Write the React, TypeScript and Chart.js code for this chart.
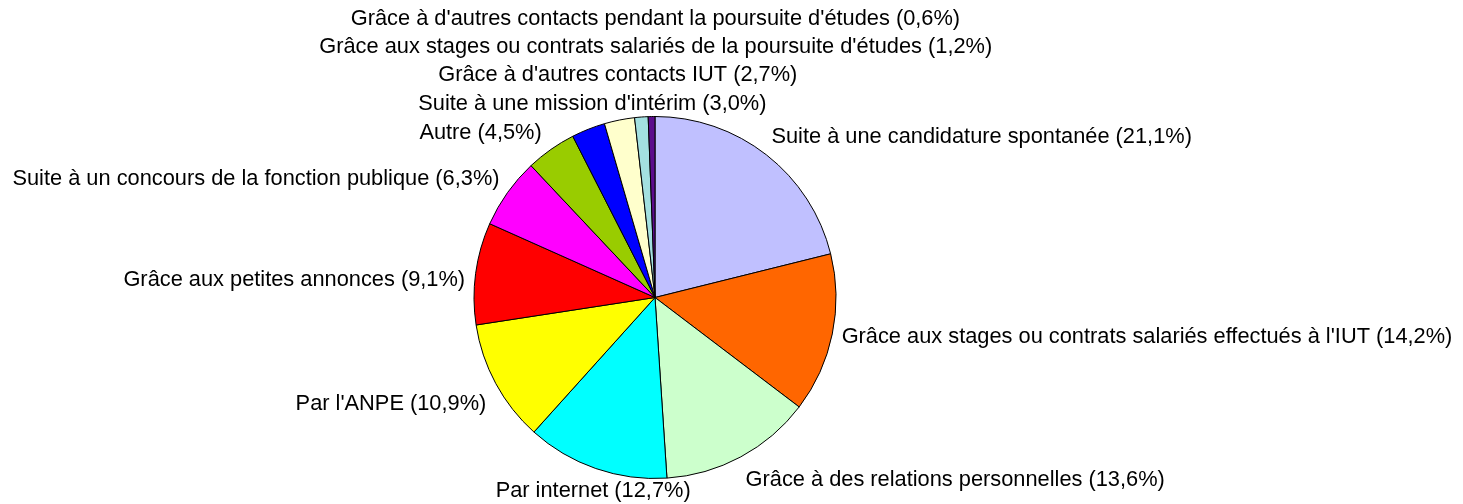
import React, { useEffect, useRef } from "react";
import { Chart, registerables } from "chart.js";

Chart.register(...registerables);

const categories: string[] = [
  "Suite à une candidature spontanée",
  "Grâce aux stages ou contrats salariés effectués à l'IUT",
  "Grâce à des relations personnelles",
  "Par internet",
  "Par l'ANPE",
  "Grâce aux petites annonces",
  "Suite à un concours de la fonction publique",
  "Autre",
  "Suite à une mission d'intérim",
  "Grâce à d'autres contacts IUT",
  "Grâce aux stages ou contrats salariés de la poursuite d'études",
  "Grâce à d'autres contacts pendant la poursuite d'études",
];

const values: number[] = [21.1, 14.2, 13.6, 12.7, 10.9, 9.1, 6.3, 4.5, 3.0, 2.7, 1.2, 0.6];

const colors: string[] = [
  "#C0C0FF",
  "#FF6600",
  "#CCFFCC",
  "#00FFFF",
  "#FFFF00",
  "#FF0000",
  "#FF00FF",
  "#99CC00",
  "#0000FF",
  "#FFFFCC",
  "#A3E0E0",
  "#5C0C8C",
];

const FONT = "21.8px 'Liberation Sans', Arial, sans-serif";

// per-label fine placement relative to the computed anchor (pixels)
const labelNudges: [number, number][] = [
  [0, -11.5],
  [1.5, 1.3],
  [1, 16],
  [0, 15],
  [-2.4, 16.5],
  [-2.6, 8],
  [-1.4, -9],
  [-4.5, -10],
  [7, -18],
  [0, -37],
  [15, -61.6],
  [4, -90],
];

const fmt = (v: number) => v.toFixed(1).replace(".", ",") + "%";

const outsideLabels = {
  id: "outsideLabels",
  afterDraw(chart: any) {
    const ctx = chart.ctx as CanvasRenderingContext2D;
    const meta = chart.getDatasetMeta(0);
    ctx.save();
    ctx.font = FONT;
    ctx.fillStyle = "#000";
    ctx.textBaseline = "middle";
    meta.data.forEach((arc: any, i: number) => {
      const p = arc.getProps(["x", "y", "startAngle", "endAngle", "outerRadius"], true);
      const mid = (p.startAngle + p.endAngle) / 2;
      const R = p.outerRadius + 8;
      const c = Math.cos(mid);
      const ax = p.x + c * R;
      const ay = p.y + Math.sin(mid) * R;
      let align: CanvasTextAlign = "center";
      if (c > 0.4) align = "left";
      else if (c < -0.4) align = "right";
      const [dx, dy] = labelNudges[i] || [0, 0];
      ctx.textAlign = align;
      ctx.fillText(`${categories[i]} (${fmt(values[i])})`, ax + dx, ay + dy);
    });
    ctx.restore();
  },
};

export default function App() {
  const ref = useRef<HTMLCanvasElement | null>(null);
  useEffect(() => {
    if (!ref.current) return;
    const chart = new Chart(ref.current, {
      type: "pie",
      data: {
        labels: categories,
        datasets: [
          {
            data: values,
            backgroundColor: colors,
            borderColor: "#000",
            borderWidth: 1,
            hoverBorderWidth: 1,
            hoverOffset: 0,
          },
        ],
      },
      options: {
        responsive: false,
        animation: false,
        events: [],
        layout: { padding: { top: 116, bottom: 25, left: 0, right: 153 } },
        plugins: {
          legend: { display: false },
          tooltip: { enabled: false },
        },
      },
      plugins: [outsideLabels],
    });
    return () => chart.destroy();
  }, []);
  return (
    <div style={{ position: "fixed", left: 0, top: 0, width: 1463, height: 504, background: "#fff" }}>
      <canvas ref={ref} width={1463} height={504} style={{ width: 1463, height: 504, display: "block" }} />
    </div>
  );
}
